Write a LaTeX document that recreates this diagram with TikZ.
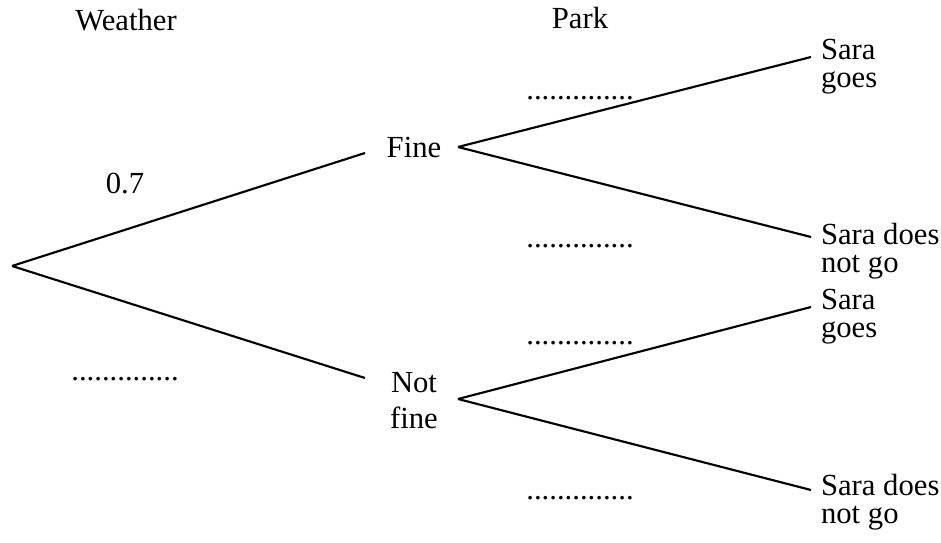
\documentclass[tikz,border=0pt]{standalone}
\usepackage{fontspec}
\setmainfont{Liberation Serif}
\tikzset{every picture/.style={line width=1.6pt}}
\tikzset{lbl/.style={font=\fontsize{23}{21}\selectfont, inner sep=0pt}}

\begin{document}
\begin{tikzpicture}[x=0.75pt,y=0.75pt,yscale=-1,xscale=1]
	\useasboundingbox (0,0) rectangle (941,542);

	% Branch points
	\coordinate (root) at (12,266);
	\coordinate (fineIn) at (365,153);
	\coordinate (fineOut) at (458,147);
	\coordinate (notIn) at (365,378);
	\coordinate (notOut) at (458,399);
	\coordinate (goesA) at (811,57);
	\coordinate (notgoA) at (811,237);
	\coordinate (goesB) at (811,307);
	\coordinate (notgoB) at (811,490);

	%Straight Lines
	\draw (root) -- (fineIn);
	%Straight Lines
	\draw (root) -- (notIn);
	%Straight Lines
	\draw (fineOut) -- (goesA);
	%Straight Lines
	\draw (fineOut) -- (notgoA);
	%Straight Lines
	\draw (notOut) -- (goesB);
	%Straight Lines
	\draw (notOut) -- (notgoB);

	% Text Node
	\node [lbl, anchor=base] (weather) at (126,31) {Weather};
	% Text Node
	\node [lbl, anchor=base] (park) at (580,29) {Park};
	% Text Node
	\node [lbl, anchor=base] (fine) at (414,157) {Fine};
	% Text Node
	\node [lbl, anchor=base, align=center] (notfine) at (414,428) {Not\\[6pt]fine};
	% Text Node
	\node [lbl, anchor=base] (pfine) at (125,193) {0.7};
	% Text Node
	\node [lbl, anchor=base] (pnot) at (125,380) {..............};
	% Text Node
	\node [lbl, anchor=base] (pgoesA) at (580,99) {..............};
	% Text Node
	\node [lbl, anchor=base] (pnotgoA) at (580,247) {..............};
	% Text Node
	\node [lbl, anchor=base] (pgoesB) at (580,344) {..............};
	% Text Node
	\node [lbl, anchor=base] (pnotgoB) at (580,499) {..............};
	% Text Node
	\node [lbl, anchor=base west, align=left] (saraA) at (820,88) {Sara\\goes};
	% Text Node
	\node [lbl, anchor=base west, align=left] (notA) at (820,272) {Sara does\\not go};
	% Text Node
	\node [lbl, anchor=base west, align=left] (saraB) at (820,337) {Sara\\goes};
	% Text Node
	\node [lbl, anchor=base west, align=left] (notB) at (820,523) {Sara does\\not go};

\end{tikzpicture}
\end{document}
